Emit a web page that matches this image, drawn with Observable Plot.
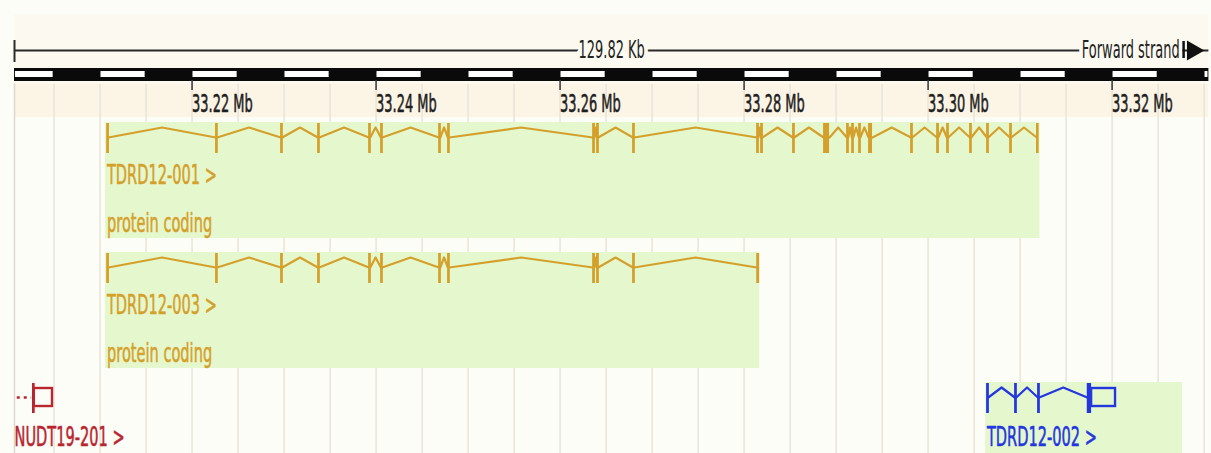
<!DOCTYPE html>
<html><head><meta charset="utf-8">
<script src="https://cdn.jsdelivr.net/npm/d3@7"></script>
<script src="https://cdn.jsdelivr.net/npm/@observablehq/plot@0.6"></script>
<style>body{margin:0;background:#fff} svg{display:block}</style>
</head><body><div id="chart"></div>
<script>
// ---- data (genomic coordinates in Mb) ----
const viewMb = [33.20070, 33.33052];
const tickMb = [33.22, 33.24, 33.26, 33.28, 33.30, 33.32];
const regionLabel = "129.82 Kb";
const strandLabel = "Forward strand";

const transcriptNames = ["TDRD12-001", "TDRD12-003", "NUDT19-201", "TDRD12-002"];
const transcriptBiotypes = ["protein coding", "protein coding", "", ""];
const transcriptRows = [0, 1, 2, 2];

const exons001 = [[33.21075,33.21090],[33.22258,33.22273],[33.22965,33.22980],[33.23367,33.23382],
  [33.23922,33.23937],[33.24052,33.24067],[33.24683,33.24698],[33.24780,33.24795],[33.26357,33.26372],
  [33.26400,33.26415],[33.26791,33.26806],[33.28139,33.28154],[33.28183,33.28198],[33.28530,33.28545],
  [33.28864,33.28929],[33.29117,33.29132],[33.29172,33.29187],[33.29248,33.29263],[33.29353,33.29396],
  [33.29813,33.29828],[33.30096,33.30111],[33.30204,33.30219],[33.30454,33.30469],[33.30639,33.30654],
  [33.30889,33.30904],[33.31180,33.31195]];
const exons003 = [[33.21075,33.21090],[33.22258,33.22273],[33.22965,33.22980],[33.23367,33.23382],
  [33.23922,33.23937],[33.24052,33.24067],[33.24683,33.24698],[33.24780,33.24795],[33.26357,33.26372],
  [33.26400,33.26415],[33.26791,33.26806],[33.28139,33.28160]];
const exonsNUDT19 = [[33.20266,33.20285]];
const utrNUDT19 = [[33.20285,33.20483]];
const upstreamNUDT19 = 33.19950; // previous exon, outside the view
const exons002 = [[33.30639,33.30654],[33.30943,33.30958],[33.31193,33.31208],[33.31730,33.31777]];
const utr002 = [[33.31777,33.32037]];
const transcriptStarts = [33.21075, 33.21075, upstreamNUDT19, 33.30639];

const highlightsMb = [[33.21059,33.31217,0],[33.21059,33.28170,1],[33.30625,33.32766,2]];

// ---- styles / layout ----
const gold = "#d4a02c", red = "#b8262f", blue = "#2437de";
const colorOf = {"TDRD12-001": gold, "TDRD12-003": gold, "NUDT19-201": red, "TDRD12-002": blue};
const rowTop = [122, 252, 382];
const W = 1211, H = 453;

const exonSets = [exons001, exons003, exonsNUDT19, exons002];
const utrSets = [[], [], utrNUDT19, utr002];

const exonRows = [], intronPts = [], utrRows = [], labelRows = [];
transcriptNames.forEach((name, i) => {
  const yc = rowTop[transcriptRows[i]] + 15;
  const ex = exonSets[i];
  ex.forEach(([a, b]) => exonRows.push({name, a, b, m: (a + b) / 2, y1: yc - 14, y2: yc + 16}));
  utrSets[i].forEach(([a, b]) => utrRows.push({name, a, b, y1: yc - 9, y2: yc + 9}));
  for (let k = 0; k < ex.length - 1; k++) {
    const s = ex[k][1], e = ex[k + 1][0];
    const id = name + k;
    intronPts.push({id, name, x: s, y: yc}, {id, name, x: (s + e) / 2, y: yc - 10}, {id, name, x: e, y: yc});
  }
  const lx = Math.max(transcriptStarts[i], viewMb[0]);
  labelRows.push({name, x: lx, y: transcriptRows[i] === 2 ? 437 : yc + 38, text: name + " >"});
  if (transcriptBiotypes[i]) labelRows.push({name, x: lx, y: yc + 86, text: transcriptBiotypes[i]});
});
const dottedNUDT = [{a: viewMb[0] + 0.0003, b: exonsNUDT19[0][0] - 0.0001, y: rowTop[2] + 15}];

const grid = d3.range(33.205, viewMb[1], 0.005);
const whiteBlocks = d3.range(33.20, viewMb[1], 0.01).map(s => ({a: Math.max(s, viewMb[0]) + 0.0001, b: Math.min(s + 0.005, viewMb[1]) - 0.0001}));
const view = [{a: viewMb[0], b: viewMb[1]}];
const midMb = (viewMb[0] + viewMb[1]) / 2;
const barMb = viewMb[1] - 0.00275, arrowMb = viewMb[1] - 0.00175, strandEndMb = viewMb[1] - 0.00318;

const plot = Plot.plot({
  width: W, height: H,
  marginTop: 0, marginBottom: 0, marginLeft: 0, marginRight: 0,
  x: {domain: viewMb, range: [14, 1208.4], axis: null},
  y: {domain: [0, H], range: [0, H], axis: null},
  style: {fontFamily: "DejaVu Sans", background: "#fdfdf8", overflow: "visible"},
  marks: [
    Plot.rect(view, {x1: "a", x2: "b", y1: 14, y2: 84, fill: "#fcf9f0"}),
    Plot.rect(view, {x1: "a", x2: "b", y1: 84, y2: 117, fill: "#fcf4e5"}),
    Plot.ruleX(grid, {y1: 84, y2: H, stroke: "#e8e4da", strokeWidth: 1.5}),
    Plot.ruleX([viewMb[0]], {y1: 84, y2: H, stroke: "#dcd8cf", strokeWidth: 1.5}),
    // highlights
    Plot.rect(highlightsMb, {x1: d => d[0], x2: d => d[1], y1: d => rowTop[d[2]], y2: d => d[2] === 2 ? H : rowTop[d[2]] + 116, fill: "#e5f8cd"}),
    // ruler line
    Plot.ruleY([50], {x1: viewMb[0], x2: viewMb[1], stroke: "#2a2a2a", strokeWidth: 2}),
    Plot.ruleX([viewMb[0]], {y1: 40, y2: 62, stroke: "#2a2a2a", strokeWidth: 2}),
    Plot.text([regionLabel], {x: midMb, y: 50, text: d => d, fontSize: 24, fill: "#222", stroke: "#fcf9f0", strokeWidth: 14, paintOrder: "stroke", textAnchor: "middle", lineAnchor: "middle"}),
    Plot.text([strandLabel], {x: strandEndMb, y: 50, text: d => d, fontSize: 24, fill: "#222", stroke: "#fcf9f0", strokeWidth: 14, paintOrder: "stroke", textAnchor: "end", lineAnchor: "middle"}),
    Plot.ruleX([barMb], {y1: 41, y2: 58, stroke: "#111", strokeWidth: 2.5}),
    Plot.dot([arrowMb], {x: d => d, y: 50, symbol: "triangle", rotate: 90, r: 7.5, fill: "#111"}),
    // scale bar
    Plot.rect(view, {x1: "a", x2: "b", y1: 68, y2: 81, fill: "#0a0a0a"}),
    Plot.rect(whiteBlocks, {x1: "a", x2: "b", y1: 71, y2: 77, fill: "#ffffff"}),
    Plot.ruleX(tickMb, {y1: 80, y2: 90, stroke: "#333", strokeWidth: 1.5}),
    Plot.text(tickMb, {x: d => d, y: 104, text: d => d.toFixed(2) + " Mb", fontSize: 24, fill: "#1e1e1e", stroke: "#1e1e1e", strokeWidth: 0.6, textAnchor: "start", lineAnchor: "middle"}),
    // transcripts
    Plot.ruleY(dottedNUDT, {x1: "a", x2: "b", y: "y", stroke: red, strokeWidth: 2.5, strokeDasharray: "3,4"}),
    Plot.line(intronPts, {x: "x", y: "y", z: "id", stroke: d => colorOf[d.name], strokeWidth: 2.2}),
    Plot.rect(exonRows, {x1: "a", x2: "b", y1: "y1", y2: "y2", fill: d => colorOf[d.name]}),
    Plot.ruleX(exonRows, {x: "m", y1: "y1", y2: "y2", stroke: d => colorOf[d.name], strokeWidth: 2.6}),
    Plot.rect(utrRows, {x1: "a", x2: "b", y1: "y1", y2: "y2", fill: "none", stroke: d => colorOf[d.name], strokeWidth: 2.4}),
    Plot.text(labelRows, {x: "x", y: "y", text: "text", fontSize: 27, fill: d => colorOf[d.name], stroke: d => colorOf[d.name], strokeWidth: 0.6, textAnchor: "start", lineAnchor: "middle"})
  ]
});
document.getElementById("chart").append(plot);
plot.querySelectorAll("text").forEach(t => {
  const L = t.getComputedTextLength();
  t.setAttribute("textLength", (L * 0.54).toFixed(1));
  t.setAttribute("lengthAdjust", "spacingAndGlyphs");
});
</script></body></html>
